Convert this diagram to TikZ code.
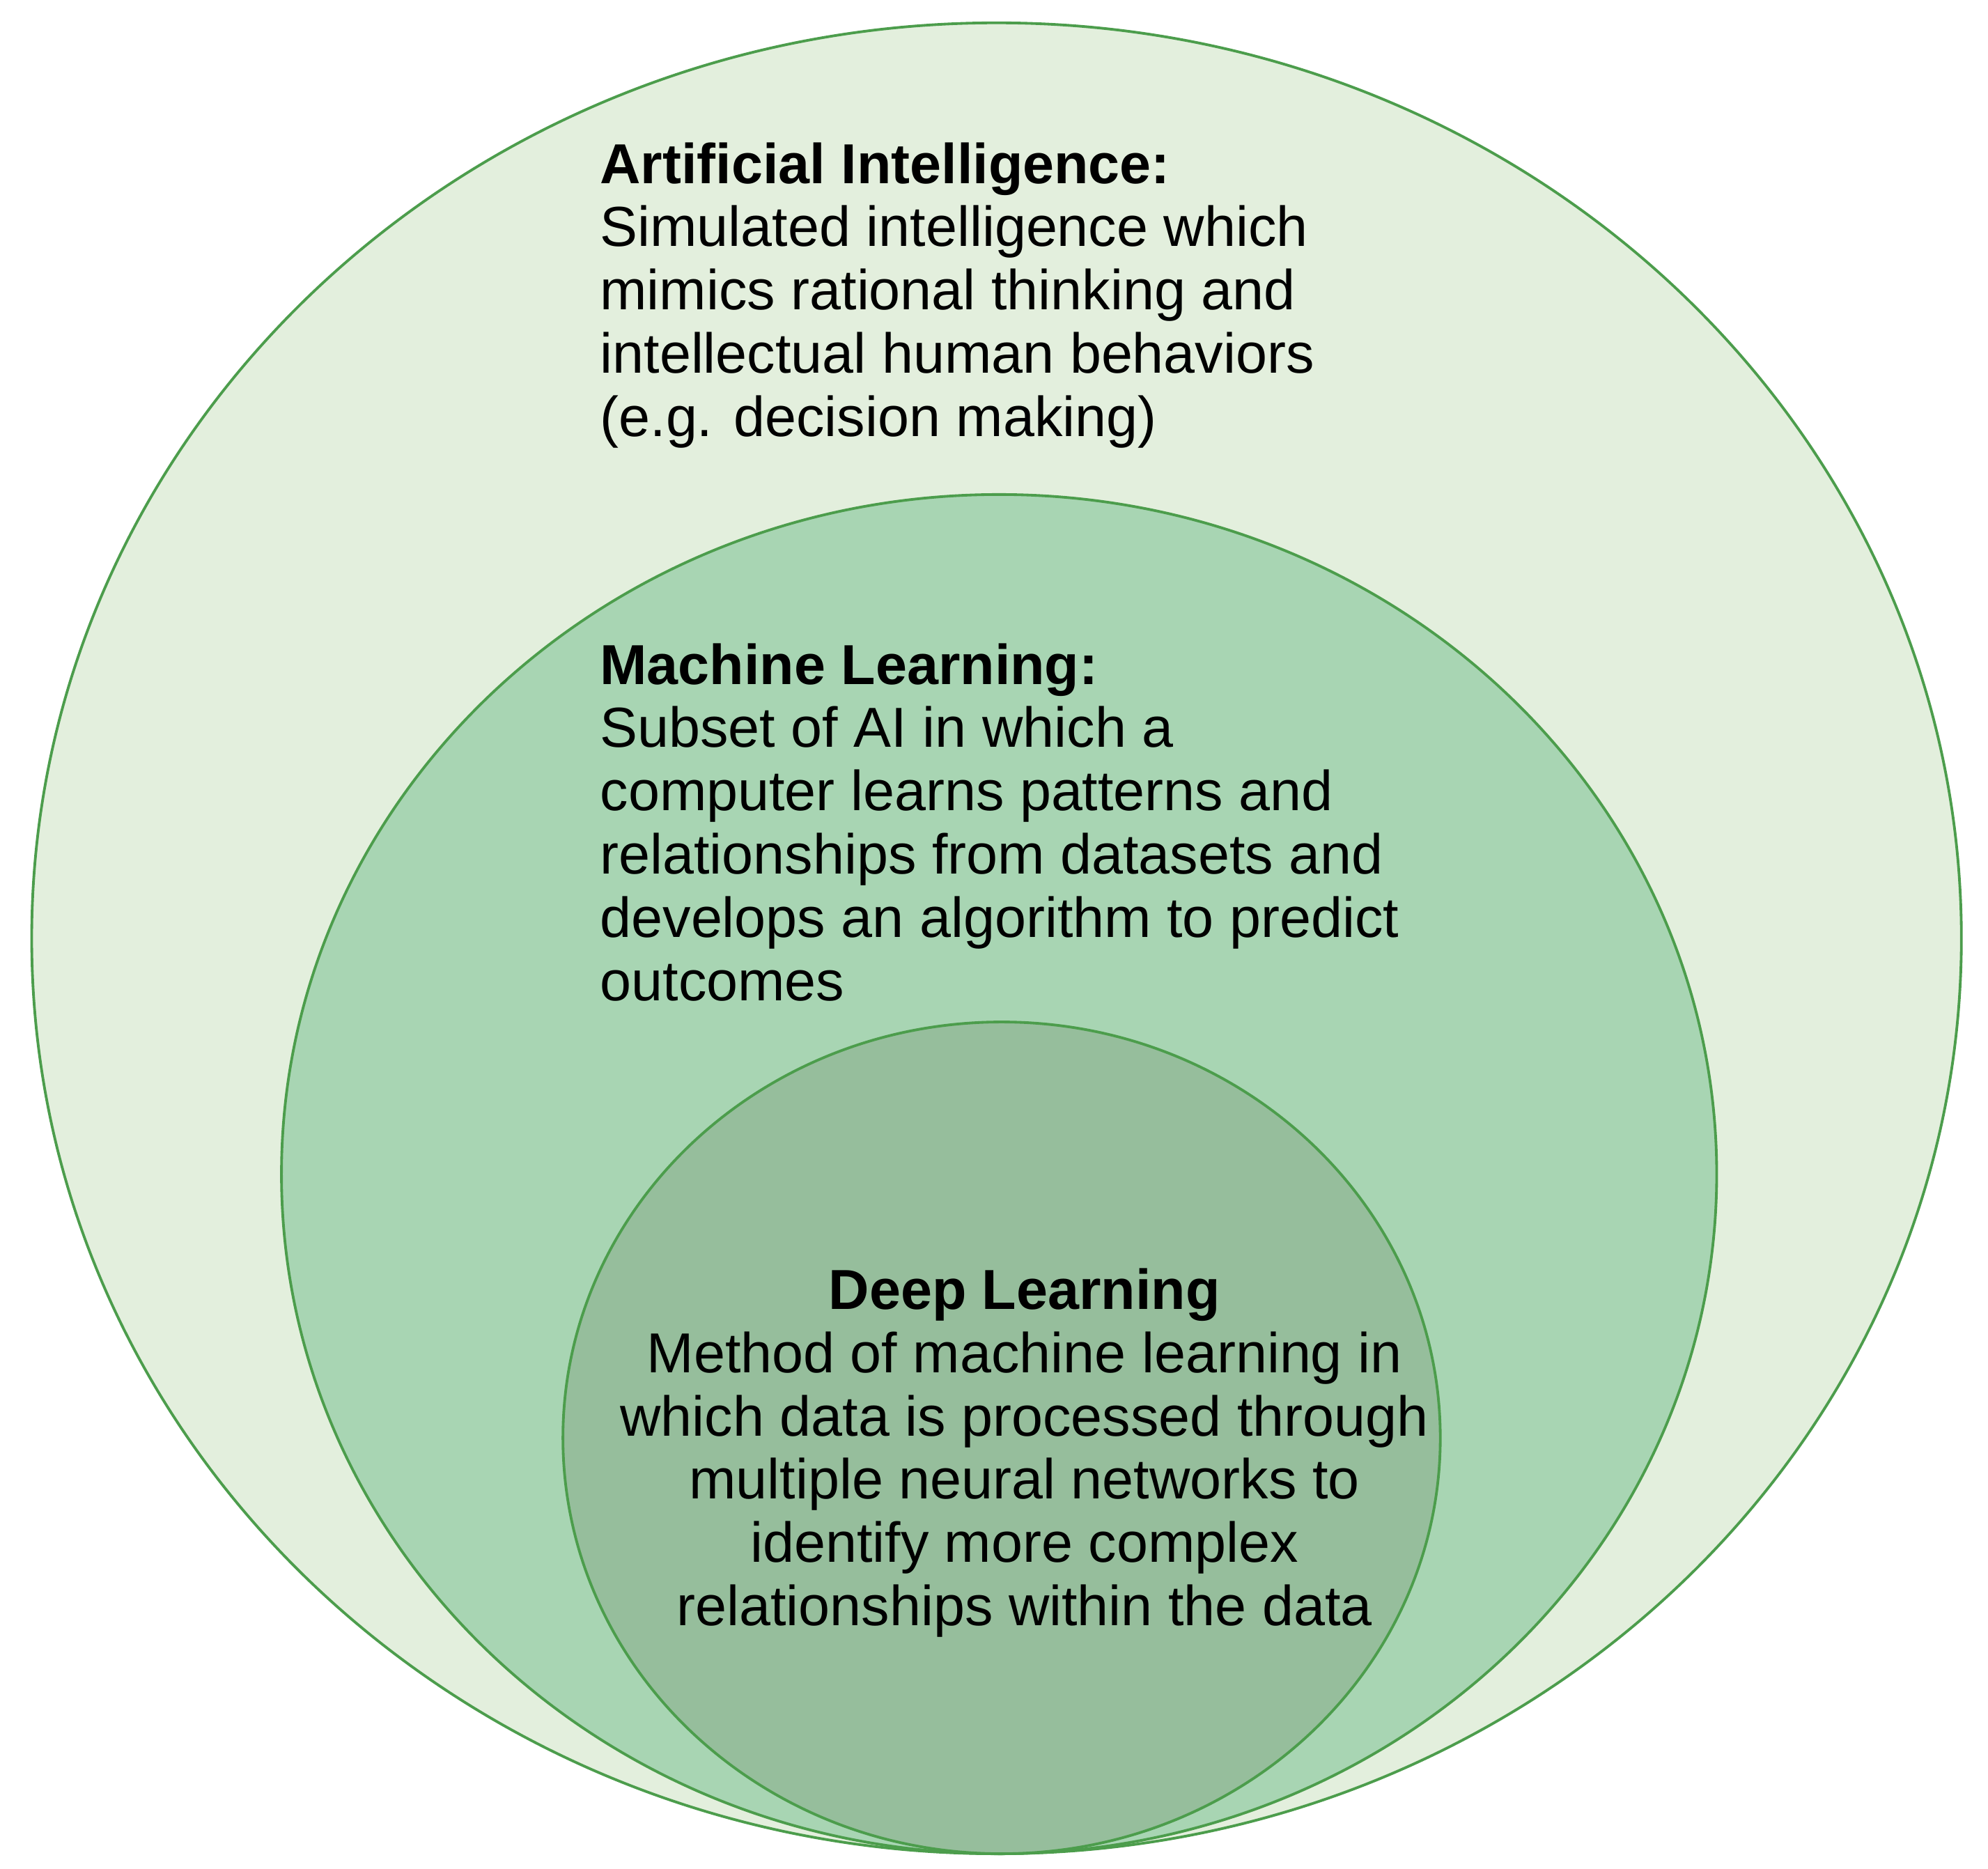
\documentclass[tikz,border=0pt]{standalone}
\usepackage{fontspec}
\setmainfont{Liberation Sans}
\begin{document}
\begin{tikzpicture}[x=0.02cm,y=-0.02cm,
  ring/.style={draw=green!45!black!70, line width=1.2pt},
  txt/.style={inner sep=0pt, font=\fontsize{25.3}{28.4}\selectfont, align=left}]
\useasboundingbox (0,0) rectangle (1568,1474);
\definecolor{c1}{HTML}{E3EFDD}
\definecolor{c2}{HTML}{A8D5B3}
\definecolor{c3}{HTML}{96BE9C}
\draw[ring, fill=c1] (786,740) ellipse [x radius=761, y radius=722];
\draw[ring, fill=c2] (788,926) ellipse [x radius=566, y radius=536];
\draw[ring, fill=c3] (790,1134) ellipse [x radius=346, y radius=328];
\node[txt, anchor=north west] (ai) at (473,112) {\textbf{Artificial Intelligence:}\\Simulated intelligence which\\mimics rational thinking and\\intellectual human behaviors\\(e.g. decision making)};
\node[txt, anchor=north west] (ml) at (473,507) {\textbf{Machine Learning:}\\Subset of AI in which a\\computer learns patterns and\\relationships from datasets and\\develops an algorithm to predict\\outcomes};
\node[txt, align=center, anchor=north] (dl) at (808,1000) {\textbf{Deep Learning}\\Method of machine learning in\\which data is processed through\\multiple neural networks to\\identify more complex\\relationships within the data};
\end{tikzpicture}
\end{document}
